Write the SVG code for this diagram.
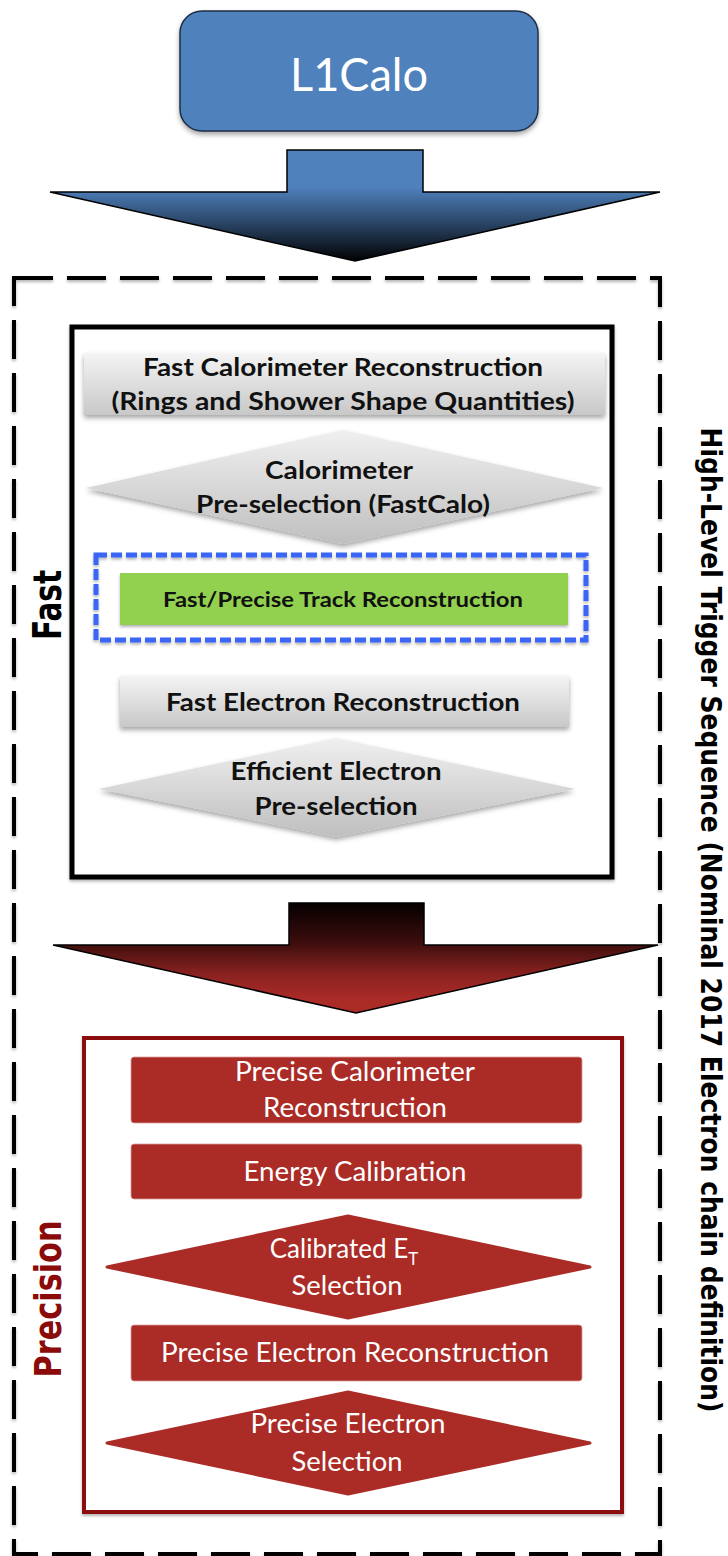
<svg xmlns="http://www.w3.org/2000/svg" width="728" height="1556" viewBox="0 0 728 1556">
<defs>
<style>
.bx{font-family:Lato,"Open Sans","Liberation Sans",sans-serif;text-anchor:middle}
.gb{font-weight:bold;font-size:25px;fill:#111}
.wr{font-size:26px;fill:#fff}
.vt{font-family:"DejaVu Sans",Verdana,sans-serif;font-weight:bold;text-anchor:middle}
</style>
<filter id="sh" x="-10%" y="-20%" width="120%" height="150%"><feDropShadow dx="0" dy="3" stdDeviation="2.5" flood-color="#000" flood-opacity="0.35"/></filter>
<filter id="shs" x="-10%" y="-20%" width="120%" height="150%"><feDropShadow dx="0" dy="2" stdDeviation="1.5" flood-color="#000" flood-opacity="0.3"/></filter>
<linearGradient id="gray" x1="0" y1="0" x2="0" y2="1"><stop offset="0" stop-color="#f4f4f4"/><stop offset="1" stop-color="#c8c8c8"/></linearGradient>
<linearGradient id="grayd" x1="0" y1="0" x2="0" y2="1"><stop offset="0" stop-color="#f0f0f0"/><stop offset="1" stop-color="#bfbfbf"/></linearGradient>
<linearGradient id="blueArr" gradientUnits="userSpaceOnUse" x1="0" y1="150" x2="0" y2="262"><stop offset="0" stop-color="#4f81bd"/><stop offset="0.33" stop-color="#4f81bd"/><stop offset="0.65" stop-color="#2a4566"/><stop offset="1" stop-color="#000"/></linearGradient>
<linearGradient id="redArr" gradientUnits="userSpaceOnUse" x1="0" y1="903" x2="0" y2="1013"><stop offset="0" stop-color="#060000"/><stop offset="0.35" stop-color="#3a0d0c"/><stop offset="0.65" stop-color="#8a2220"/><stop offset="0.88" stop-color="#ab2b27"/><stop offset="1" stop-color="#ab2b27"/></linearGradient>
</defs>

<g id="outer-frame">
<rect x="14" y="278" width="646" height="1276" fill="none" stroke="#000" stroke-width="4" stroke-dasharray="39 14" filter="url(#shs)"/>
</g>

<g id="l1calo">
<rect x="180" y="11" width="358" height="120" rx="22" fill="#4f81bd" stroke="#1f2f45" stroke-width="1.5" filter="url(#sh)"/>
<text class="bx" x="359" y="91" font-size="47" fill="#fff" textLength="138" lengthAdjust="spacingAndGlyphs">L1Calo</text>
</g>

<g id="connectors">
<path d="M287 150 H423 V192 H660 L355 261 L50 192 H287 Z" fill="url(#blueArr)" stroke="#000" stroke-width="1.5" stroke-linejoin="miter"/>
<path d="M289 903 H424 V945 H658 L356 1013 L53 945 H289 Z" fill="url(#redArr)" stroke="#000" stroke-width="1.5"/>
</g>

<g id="fast-box">
<rect x="72" y="327" width="540" height="550" fill="#fff" stroke="#000" stroke-width="5" filter="url(#shs)"/>
</g>

<g id="fast-calo-reco">
<rect x="84" y="353" width="521" height="62" fill="url(#gray)" filter="url(#sh)"/>
<text class="bx gb" x="343" y="376" textLength="400" lengthAdjust="spacingAndGlyphs">Fast Calorimeter Reconstruction</text>
<text class="bx gb" x="343" y="410" textLength="463" lengthAdjust="spacingAndGlyphs">(Rings and Shower Shape Quantities)</text>
</g>

<g id="calo-presel">
<polygon points="86,488 343,430 603,488 343,544" fill="url(#grayd)" filter="url(#sh)"/>
<text class="bx gb" x="339" y="479" textLength="148" lengthAdjust="spacingAndGlyphs">Calorimeter</text>
<text class="bx gb" x="343" y="513" textLength="294" lengthAdjust="spacingAndGlyphs">Pre-selection (FastCalo)</text>
</g>

<g id="track-reco">
<rect x="96" y="555" width="490" height="85" fill="none" stroke="#3a66f5" stroke-width="5" stroke-dasharray="11 4" filter="url(#shs)"/>
<rect x="120" y="573" width="448" height="52" fill="#92d050" filter="url(#shs)"/>
<text class="bx" x="343" y="607" font-weight="bold" font-size="21" fill="#111" textLength="360" lengthAdjust="spacingAndGlyphs">Fast/Precise Track Reconstruction</text>
</g>

<g id="fast-electron-reco">
<rect x="120" y="676" width="449" height="51" fill="url(#gray)" filter="url(#sh)"/>
<text class="bx gb" x="343" y="711" textLength="354" lengthAdjust="spacingAndGlyphs">Fast Electron Reconstruction</text>
</g>

<g id="eff-electron-presel">
<polygon points="99,789 336,738 575,789 336,837" fill="url(#grayd)" filter="url(#sh)"/>
<text class="bx gb" x="336" y="780" textLength="211" lengthAdjust="spacingAndGlyphs">Efficient Electron</text>
<text class="bx gb" x="336" y="815" textLength="163" lengthAdjust="spacingAndGlyphs">Pre-selection</text>
</g>

<g id="precision-box">
<rect x="84" y="1038" width="538" height="474" fill="#fff" stroke="#8b0a0a" stroke-width="4" filter="url(#shs)"/>
</g>

<g id="precise-calo-reco">
<rect x="131" y="1057" width="451" height="66" rx="3" fill="#ab2b26" stroke="#d9a09c" stroke-width="0.8"/>
<text class="bx wr" x="355" y="1081" textLength="240" lengthAdjust="spacingAndGlyphs">Precise Calorimeter</text>
<text class="bx wr" x="355" y="1117" textLength="184" lengthAdjust="spacingAndGlyphs">Reconstruction</text>
</g>

<g id="energy-calib">
<rect x="131" y="1144" width="451" height="55" rx="3" fill="#ab2b26" stroke="#d9a09c" stroke-width="0.8"/>
<text class="bx wr" x="355" y="1181" textLength="223" lengthAdjust="spacingAndGlyphs">Energy Calibration</text>
</g>

<g id="et-selection">
<polygon points="107,1267 348,1216 590,1267 348,1318" fill="#ab2b26" stroke="#ab2b26" stroke-width="3" stroke-linejoin="round"/>
<text class="bx wr" x="344" y="1258">Calibrated E<tspan dy="7" font-size="17">T</tspan></text>
<text class="bx wr" x="347" y="1295" textLength="111" lengthAdjust="spacingAndGlyphs">Selection</text>
</g>

<g id="precise-electron-reco">
<rect x="131" y="1325" width="451" height="56" rx="3" fill="#ab2b26" stroke="#d9a09c" stroke-width="0.8"/>
<text class="bx wr" x="355" y="1362" textLength="388" lengthAdjust="spacingAndGlyphs">Precise Electron Reconstruction</text>
</g>

<g id="precise-electron-sel">
<polygon points="107,1443 348,1392 590,1443 348,1494" fill="#ab2b26" stroke="#ab2b26" stroke-width="3" stroke-linejoin="round"/>
<text class="bx wr" x="348" y="1433" textLength="195" lengthAdjust="spacingAndGlyphs">Precise Electron</text>
<text class="bx wr" x="347" y="1471" textLength="111" lengthAdjust="spacingAndGlyphs">Selection</text>
</g>

<g id="labels">
<text class="vt" transform="translate(61,605) rotate(-90)" font-size="39" fill="#000" textLength="70" lengthAdjust="spacingAndGlyphs">Fast</text>
<text class="vt" transform="translate(61,1299) rotate(-90)" font-size="38" fill="#8b0a0a" textLength="157" lengthAdjust="spacingAndGlyphs">Precision</text>
<text class="vt" transform="translate(701,920) rotate(90)" font-size="28" fill="#000" textLength="985" lengthAdjust="spacingAndGlyphs">High-Level Trigger Sequence (Nominal 2017 Electron chain definition)</text>
</g>
</svg>
